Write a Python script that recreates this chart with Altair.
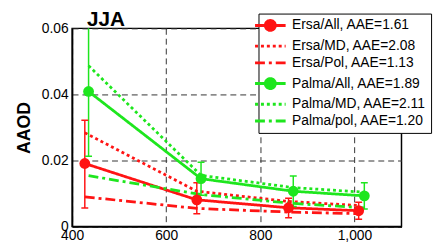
import altair as alt
import pandas as pd

labels = ["Ersa/All, AAE=1.61", "Ersa/MD, AAE=2.08", "Ersa/Pol, AAE=1.13",
          "Palma/All, AAE=1.89", "Palma/MD, AAE=2.11", "Palma/pol, AAE=1.20"]
red = "#ff1414"
green = "#1ee61e"
colors = [red, red, red, green, green, green]
dashes = [[1, 0], [3, 3], [10, 4, 3, 4], [1, 0], [3, 3], [10, 4, 3, 4]]
PATH_ALL = "M-3.1,0H3.1M-1,0A1,1 0 1,0 1,0A1,1 0 1,0 -1,0"
PATH_LINE = "M-3.1,0H3.1"
shapes = [PATH_ALL, PATH_LINE, PATH_LINE, PATH_ALL, PATH_LINE, PATH_LINE]

ersa_wl = [427, 665, 860, 1009]
palma_wl = [435, 674, 870, 1021]

ersa_all = [0.0191, 0.0081, 0.0057, 0.0048]
ersa_lo = [0.0056, 0.0039, 0.0027, 0.0022]
ersa_hi = [0.0322, 0.0133, 0.0086, 0.0074]
ersa_md = [0.0284, 0.0107, 0.0076, 0.0064]
ersa_pol = [0.0090, 0.0055, 0.0044, 0.0039]

palma_all = [0.0409, 0.0145, 0.0107, 0.0093]
palma_lo = [0.0213, 0.0095, 0.0061, 0.0053]
palma_hi = [0.0620, 0.0195, 0.0153, 0.0133]
palma_md = [0.0487, 0.0155, 0.0118, 0.0104]
palma_pol = [0.0154, 0.0097, 0.0070, 0.0057]

series_vals = [ersa_all, ersa_md, ersa_pol, palma_all, palma_md, palma_pol]
series_wl = [ersa_wl, ersa_wl, ersa_wl, palma_wl, palma_wl, palma_wl]

rows = []
for lab, wls, vals in zip(labels, series_wl, series_vals):
    for w, v in zip(wls, vals):
        rows.append({"series": lab, "wl": w, "aaod": v})
lines_df = pd.DataFrame(rows)

prow = []
for lab, wls, vals, lo, hi in [(labels[0], ersa_wl, ersa_all, ersa_lo, ersa_hi),
                               (labels[3], palma_wl, palma_all, palma_lo, palma_hi)]:
    for w, v, l, h in zip(wls, vals, lo, hi):
        prow.append({"series": lab, "wl": w, "aaod": v, "lo": l, "hi": h})
pts_df = pd.DataFrame(prow)

FONT = "Liberation Sans"
xscale = alt.Scale(domain=[400, 1100], nice=False, zero=False)
yscale = alt.Scale(domain=[0, 0.06], nice=False)
xax = alt.Axis(values=[400, 600, 800, 1000], title=None, grid=True, gridDash=[6, 4],
               gridColor="#333333", gridWidth=1, ticks=False, labelFontSize=14,
               labelFont=FONT, labelColor="black", domainColor="black", domainWidth=1.5,
               labelPadding=2, labelFlush=False)
yax = alt.Axis(values=[0, 0.02, 0.04, 0.06], title="AAOD", grid=True, gridDash=[6, 4],
               gridColor="#333333", gridWidth=1, ticks=False, labelFontSize=14,
               labelFont=FONT, labelColor="black", domainColor="black", domainWidth=1.5,
               labelPadding=4, labelFlush=False,
               labelExpr="datum.value == 0 ? '0' : format(datum.value, '.2f')",
               titleFont=FONT, titleFontSize=18, titleFontWeight="bold",
               titleColor="black", titlePadding=8)

cscale = alt.Scale(domain=labels, range=colors)
dscale = alt.Scale(domain=labels, range=dashes)
sscale = alt.Scale(domain=labels, range=shapes)

legend = alt.Legend(title=None, orient="none", legendX=189, legendY=-15,
                    fillColor="white", strokeColor="black", padding=5,
                    symbolSize=100, symbolStrokeWidth=3, symbolOpacity=1,
                    labelFont=FONT, labelFontSize=14, labelColor="black",
                    labelOffset=15, rowPadding=3)

x = alt.X("wl:Q", scale=xscale, axis=xax)
col = alt.Color("series:N", scale=cscale, sort=labels, legend=legend)

ghost = alt.Chart(lines_df).transform_filter("false").mark_point(
    filled=True, opacity=1).encode(
    x=x,
    y=alt.Y("aaod:Q", scale=yscale, axis=yax),
    color=col,
    shape=alt.Shape("series:N", scale=sscale, sort=labels, legend=legend),
)

lines = alt.Chart(lines_df).mark_line(strokeWidth=2.8, clip=True).encode(
    x=x,
    y=alt.Y("aaod:Q", scale=yscale, axis=yax),
    color=col,
    strokeDash=alt.StrokeDash("series:N", scale=dscale, sort=labels, legend=legend),
)

bars = alt.Chart(pts_df).mark_rule(strokeWidth=1.5, clip=True).encode(
    x=x,
    y=alt.Y("lo:Q", scale=yscale, axis=yax),
    y2="hi:Q",
    color=col,
)

caps = alt.Chart(pts_df).transform_fold(["lo", "hi"], as_=["k", "v"]).mark_tick(
    orient="horizontal", size=7, thickness=1.5, clip=True, opacity=1).encode(
    x=x,
    y=alt.Y("v:Q", scale=yscale, axis=yax),
    color=col,
)

dots = alt.Chart(pts_df).mark_circle(size=120, opacity=1, clip=True).encode(
    x=x,
    y=alt.Y("aaod:Q", scale=yscale, axis=yax),
    color=col,
)

chart = alt.layer(ghost, lines, bars, caps, dots).properties(
    width=334, height=201,
    title=alt.Title("JJA", anchor="start", frame="group", dx=15, dy=36, font=FONT,
                    fontSize=21, fontWeight="bold", color="black",
                    baseline="alphabetic", offset=2),
    autosize=alt.AutoSizeParams(type="none"),
    padding={"left": 65, "top": 19, "right": 36, "bottom": 16},
).configure_view(stroke="black", strokeWidth=1.5)

chart.save("out.html", embed_options={"renderer": "svg", "actions": False})
